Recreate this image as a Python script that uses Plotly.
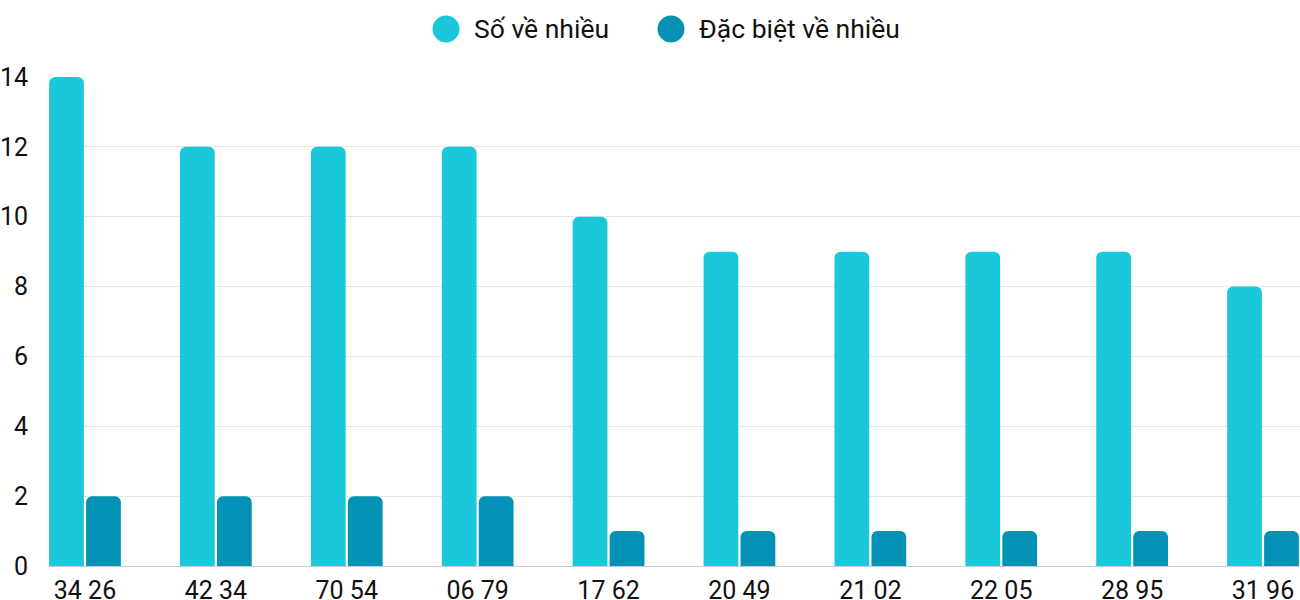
import plotly.graph_objects as go

categories = ["34 26", "42 34", "70 54", "06 79", "17 62", "20 49", "21 02", "22 05", "28 95", "31 96"]
so_ve_nhieu = [14, 12, 12, 12, 10, 9, 9, 9, 9, 8]
dac_biet_ve_nhieu = [2, 2, 2, 2, 1, 1, 1, 1, 1, 1]
series_names = ["Số về nhiều", "Đặc biệt về nhiều"]
colors = ["#1bc8da", "#0392b6"]
y_ticks = [0, 2, 4, 6, 8, 10, 12, 14]

W, H = 1300, 600
ML, MR, MT, MB = 48, 0, 77, 34
PW, PH = W - ML - MR, H - MT - MB

def px_to_paper(px, py):
    return (px - ML) / PW, (H - MB - py) / PH

fig = go.Figure()
for name, vals, col in zip(series_names, [so_ve_nhieu, dac_biet_ve_nhieu], colors):
    fig.add_trace(go.Bar(
        x=categories, y=vals, name=name,
        marker=dict(color=col, cornerradius=6, line=dict(width=0)),
        showlegend=False,
    ))

# custom legend
legend_items = [(446, 29, 472), (671, 29, 697)]
shapes, annotations = [], []
for (cx, cy, tx), name, col in zip(legend_items, series_names, colors):
    pxx, pyy = px_to_paper(cx, cy)
    shapes.append(dict(type="circle", xref="paper", yref="paper",
                       xsizemode="pixel", ysizemode="pixel",
                       xanchor=pxx, yanchor=pyy,
                       x0=-13.5, x1=13.5, y0=-13.5, y1=13.5,
                       fillcolor=col, line=dict(width=0)))
    ax, ay = px_to_paper(tx, cy)
    annotations.append(dict(x=ax, y=ay, xref="paper", yref="paper",
                            text=name, showarrow=False, xanchor="left", yanchor="middle",
                            font=dict(family="Roboto", size=26.5, color="#111")))

first_half = 0.2825
fig.update_layout(
    width=W, height=H,
    margin=dict(l=ML, r=MR, t=MT, b=MB, autoexpand=False),
    paper_bgcolor="white", plot_bgcolor="white",
    barmode="group", bargap=0.435, bargroupgap=0.06,
    font=dict(family="Roboto", size=25, color="#111"),
    shapes=shapes, annotations=annotations,
    xaxis=dict(type="category", range=[-first_half, len(categories) - 1 + first_half],
               showgrid=False, showline=False, zeroline=False,
               tickfont=dict(family="Roboto", size=25, color="#111"),
               ticks="", ticklabelstandoff=7, automargin=False),
    yaxis=dict(range=[0, 14], tickvals=y_ticks, showgrid=True, gridcolor="#e6e6e6",
               gridwidth=1, zeroline=True, zerolinecolor="#cccccc", zerolinewidth=1,
               showline=False, ticks="", ticklabelstandoff=19,
               tickfont=dict(family="Roboto", size=25, color="#111"), automargin=False),
)

fig.write_html("out.html", config={"displayModeBar": False},
               post_script="document.body.style.margin='0';document.body.style.overflow='hidden';")
